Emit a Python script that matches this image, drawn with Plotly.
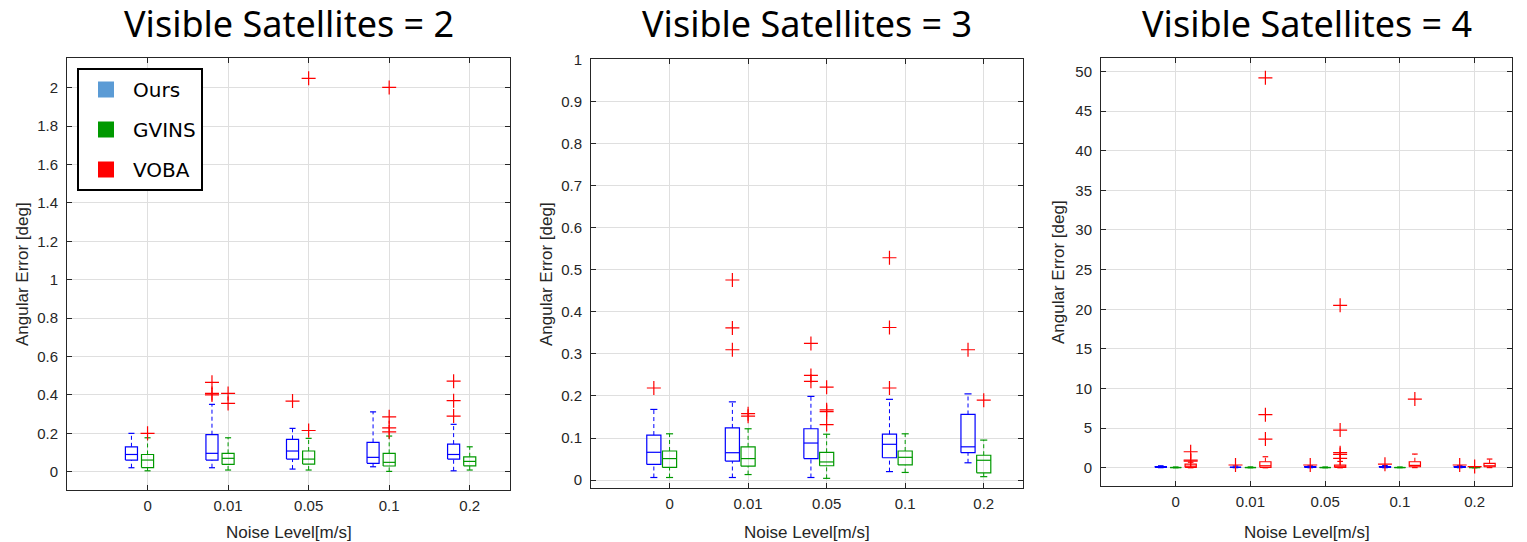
import plotly.graph_objects as go
from plotly.subplots import make_subplots

noise_levels = ["0", "0.01", "0.05", "0.1", "0.2"]
panel_titles = ["Visible Satellites = 2", "Visible Satellites = 3", "Visible Satellites = 4"]
method_names = ["Ours", "GVINS", "VOBA"]

# each row: (lower whisker, q1, median, q3, upper whisker) per noise level
s2_ours = [(0.021, 0.061, 0.090, 0.130, 0.200),
           (0.021, 0.061, 0.096, 0.193, 0.351),
           (0.014, 0.066, 0.108, 0.169, 0.226),
           (0.026, 0.044, 0.075, 0.153, 0.312),
           (0.005, 0.066, 0.090, 0.144, 0.247)]
s2_ours_out = [[], [0.466, 0.408, 0.400], [0.368], [], [0.472, 0.370, 0.290]]
s2_gvins = [(0.005, 0.022, 0.061, 0.090, 0.177),
            (0.009, 0.038, 0.070, 0.096, 0.177),
            (0.009, 0.040, 0.066, 0.108, 0.174),
            (0.002, 0.030, 0.049, 0.096, 0.186),
            (0.009, 0.031, 0.054, 0.078, 0.130)]
s2_gvins_out = [[0.200], [0.408, 0.356], [2.049, 0.215], [2.002, 0.286, 0.229, 0.208], []]

s3_ours = [(0.006, 0.037, 0.066, 0.107, 0.168),
           (0.006, 0.045, 0.065, 0.124, 0.186),
           (0.006, 0.051, 0.088, 0.122, 0.199),
           (0.020, 0.053, 0.085, 0.109, 0.192),
           (0.041, 0.065, 0.079, 0.156, 0.205)]
s3_ours_out = [[0.219], [0.476, 0.362, 0.310], [0.325, 0.249, 0.235], [0.529, 0.363, 0.219], [0.310]]
s3_gvins = [(0.006, 0.030, 0.051, 0.069, 0.110),
            (0.013, 0.033, 0.051, 0.079, 0.122),
            (0.004, 0.034, 0.043, 0.066, 0.109),
            (0.018, 0.036, 0.054, 0.069, 0.110),
            (0.008, 0.017, 0.047, 0.059, 0.095)]
s3_gvins_out = [[], [0.158, 0.152], [0.221, 0.167, 0.163, 0.132], [], [0.190]]

s4_ours = [(0.01, 0.04, 0.08, 0.14, 0.25),
           (0.01, 0.04, 0.07, 0.13, 0.22),
           (0.01, 0.04, 0.08, 0.14, 0.24),
           (0.01, 0.05, 0.09, 0.15, 0.28),
           (0.01, 0.04, 0.08, 0.14, 0.25)]
s4_ours_out = [[], [0.35], [0.35], [0.45], [0.35]]
s4_gvins = [(0.00, 0.02, 0.04, 0.06, 0.10),
            (0.00, 0.02, 0.04, 0.06, 0.11),
            (0.00, 0.02, 0.04, 0.06, 0.10),
            (0.01, 0.02, 0.04, 0.06, 0.10),
            (0.00, 0.02, 0.04, 0.06, 0.09)]
s4_gvins_out = [[], [], [], [], [0.15]]
s4_voba = [(0.00, 0.05, 0.20, 0.45, 0.70),
           (0.00, 0.05, 0.25, 0.76, 1.39),
           (0.00, 0.05, 0.12, 0.34, 0.80),
           (0.02, 0.13, 0.30, 0.76, 1.73),
           (0.02, 0.13, 0.25, 0.55, 1.10)]
s4_voba_out = [[2.02, 0.97, 0.85], [49.2, 6.7, 3.62], [20.5, 4.76, 1.90, 1.68, 1.18], [8.67], []]

# styles
BOX_COLORS = {"Ours": "#0000FF", "GVINS": "#009900", "VOBA": "#FF0000"}
LEGEND_COLORS = {"Ours": "#5B9BD5", "GVINS": "#009900", "VOBA": "#FF0000"}
OFFSETS = {"Ours": -0.2, "GVINS": 0.0, "VOBA": 0.2}
BOX_WIDTH = [0.15, 0.18, 0.15]
TXT = "#262626"

panels = [
    [("Ours", s2_ours, s2_ours_out), ("GVINS", s2_gvins, s2_gvins_out)],
    [("Ours", s3_ours, s3_ours_out), ("GVINS", s3_gvins, s3_gvins_out)],
    [("Ours", s4_ours, s4_ours_out), ("GVINS", s4_gvins, s4_gvins_out), ("VOBA", s4_voba, s4_voba_out)],
]
y_ranges = [[-0.095, 2.155], [-0.019, 1.002], [-2.3, 51.7]]
y_dticks = [0.2, 0.1, 5]

W, H, TOP = 1527, 534, 8


def py(y):
    return 1 - (y - TOP) / H


x_domains = [[67 / W, 510 / W], [591 / W, 1023 / W], [1101 / W, 1512 / W]]
y_domains = [[py(490), py(58)], [py(488), py(59)], [py(486), py(58)]]

fig = make_subplots(rows=1, cols=3)

for p, series in enumerate(panels):
    col = p + 1
    w = BOX_WIDTH[p]
    for name, stats, outs in series:
        off = OFFSETS[name]
        color = BOX_COLORS[name]
        xs, ys, xd, yd = [], [], [], []
        for i, (lo, q1, med, q3, hi) in enumerate(stats):
            c = i + 1 + off
            l, r = c - w / 2, c + w / 2
            cl, cr = c - w / 4, c + w / 4
            xs += [l, r, r, l, l, None, l, r, None, cl, cr, None, cl, cr, None]
            ys += [q1, q1, q3, q3, q1, None, med, med, None, lo, lo, None, hi, hi, None]
            xd += [c, c, None, c, c, None]
            yd += [q3, hi, None, lo, q1, None]
        fig.add_trace(go.Scatter(x=xd, y=yd, mode="lines", showlegend=False, hoverinfo="skip",
                                 line=dict(color=color, width=1, dash="4px,3px")), row=1, col=col)
        fig.add_trace(go.Scatter(x=xs, y=ys, mode="lines", showlegend=False, hoverinfo="skip",
                                 line=dict(color=color, width=1.2)), row=1, col=col)
        xo, yo = [], []
        for i, vals in enumerate(outs):
            for v in vals:
                xo.append(i + 1 + off)
                yo.append(v)
        fig.add_trace(go.Scatter(x=xo, y=yo, mode="markers", showlegend=False,
                                 marker=dict(symbol="cross-thin", size=10,
                                             line=dict(color="#FF0000", width=1.2))),
                      row=1, col=col)

# legend entries
for k, name in enumerate(method_names):
    fig.add_trace(go.Scatter(x=[None], y=[None], mode="markers", name=name,
                             legendgroup=name,
                             marker=dict(symbol="square", size=18, color=LEGEND_COLORS[name])),
                  row=1, col=1)

axis_common = dict(showline=True, linecolor=TXT, linewidth=1, mirror="ticks",
                   ticks="inside", ticklen=5, tickcolor=TXT,
                   showgrid=True, gridcolor="#dfdfdf", gridwidth=1, zeroline=False,
                   tickfont=dict(family="Liberation Sans, Arial", size=15, color=TXT))

for p in range(3):
    sfx = "" if p == 0 else str(p + 1)
    fig.layout["xaxis" + sfx].update(domain=x_domains[p], range=[0, 5.5],
                                     tickmode="array", tickvals=[1, 2, 3, 4, 5],
                                     ticktext=noise_levels, ticklabelstandoff=2, **axis_common)
    fig.layout["yaxis" + sfx].update(domain=y_domains[p], range=y_ranges[p], tick0=0,
                                     dtick=y_dticks[p], ticklabelstandoff=5, **axis_common)

annotations = []
title_x = [(67 + 510) / 2, (591 + 1023) / 2, (1101 + 1512) / 2]
ytitle_x = [22, 546, 1058]
ytitle_y = [274, 274, 272]
for p in range(3):
    annotations.append(dict(text=panel_titles[p], x=title_x[p] / W, y=py(24),
                            xref="paper", yref="paper", showarrow=False,
                            xanchor="center", yanchor="middle",
                            font=dict(family="Noto Sans", size=36, color="black")))
    annotations.append(dict(text="Noise Level[m/s]", x=title_x[p] / W, y=py(532),
                            xref="paper", yref="paper", showarrow=False,
                            xanchor="center", yanchor="middle",
                            font=dict(family="Liberation Sans, Arial", size=17, color=TXT)))
    annotations.append(dict(text="Angular Error [deg]", x=ytitle_x[p] / W, y=py(ytitle_y[p]),
                            xref="paper", yref="paper", showarrow=False, textangle=-90,
                            xanchor="center", yanchor="middle",
                            font=dict(family="Liberation Sans, Arial", size=17, color=TXT)))

fig.update_layout(
    width=1527, height=542, margin=dict(l=0, r=0, t=0, b=0),
    paper_bgcolor="white", plot_bgcolor="white",
    annotations=annotations,
    showlegend=True,
    legend=dict(x=77 / W, y=py(68), xanchor="left", yanchor="top",
                bgcolor="white", bordercolor="black", borderwidth=2,
                font=dict(family="DejaVu Sans", size=20, color="black"),
                itemwidth=44, tracegroupgap=11,
                entrywidth=108),
)

fig.write_html("out.html")
